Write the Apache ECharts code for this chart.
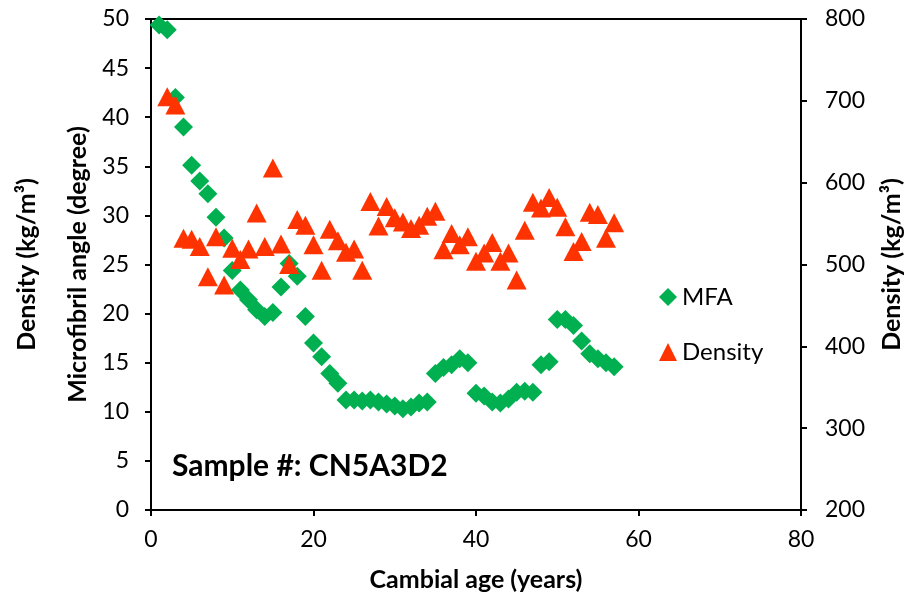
<!DOCTYPE html>
<html>
<head>
<meta charset="utf-8">
<script src="https://cdn.jsdelivr.net/npm/echarts@6/dist/echarts.min.js"></script>
<style>
html,body{margin:0;padding:0;background:#fff;}
#c{width:916px;height:599px;}
</style>
</head>
<body>
<div id="c"></div>
<script>
// Cambial age (years)
const mfaYears = [1,2,3,4,5,6,7,8,9,10,11,12,13,14,15,16,17,18,19,20,21,22,23,24,25,26,27,28,29,30,31,32,33,34,35,36,37,38,39,40,41,42,43,44,45,46,47,48,49,50,51,52,53,54,55,56,57];
// Microfibril angle (degree)
const mfaValues = [49.4,48.9,42.0,39.0,35.1,33.5,32.2,29.8,27.7,24.4,22.4,21.4,20.4,19.7,20.1,22.7,25.1,23.8,19.7,17.0,15.6,13.9,12.9,11.2,11.2,11.1,11.2,11.0,10.8,10.6,10.3,10.5,10.9,11.0,13.9,14.5,14.8,15.4,15.0,11.9,11.6,11.0,10.9,11.3,12.0,12.1,12.0,14.8,15.1,19.4,19.4,18.8,17.2,15.9,15.4,15.0,14.6];
const densityYears = [2,3,4,5,6,7,8,9,10,11,12,13,14,15,16,17,18,19,20,21,22,23,24,25,26,27,28,29,30,31,32,33,34,35,36,37,38,39,40,41,42,43,44,45,46,47,48,49,50,51,52,53,54,55,56,57];
// Density (kg/m3)
const densityValues = [705,695,532,531,522,485,534,475,520,506,519,563,522,618,525,500,555,548,524,493,543,529,515,519,493,577,547,571,557,552,544,548,559,565,518,538,524,534,504,514,527,504,514,481,542,576,569,582,570,546,516,528,564,561,532,551];
const xTicks = {min:0, max:80, interval:20};
const yLeftTicks = {min:0, max:50, interval:5};
const yRightTicks = {min:200, max:800, interval:100};

const FONT = 'Lato';
const mfaData = mfaYears.map((x,i)=>[x, mfaValues[i]]);
const densData = densityYears.map((x,i)=>[x, densityValues[i]]);

const axisCommon = {
  axisLine:{show:true, onZero:false, lineStyle:{color:'#000', width:2}},
  axisTick:{show:true, inside:false, length:6, lineStyle:{color:'#000', width:2}},
  splitLine:{show:false},
  nameMoveOverlap:false,
  axisLabel:{color:'#000', fontFamily:FONT, fontSize:23},
  nameTextStyle:{color:'#000', fontFamily:FONT, fontSize:25, fontWeight:'bold'}
};

const chart = echarts.init(document.getElementById('c'));
chart.setOption({
  animation:false,
  backgroundColor:'#fff',
  grid:{left:151, right:115, top:19, bottom:89, show:true, borderColor:'#000', borderWidth:2, containLabel:false, outerBoundsMode:'none'},
  xAxis:Object.assign({}, axisCommon, {
    type:'value', min:xTicks.min, max:xTicks.max, interval:xTicks.interval,
    name:'Cambial age (years)', nameLocation:'middle', nameGap:57,
    axisLabel:Object.assign({}, axisCommon.axisLabel, {margin:18})
  }),
  yAxis:[
    Object.assign({}, axisCommon, {
      type:'value', position:'left', min:yLeftTicks.min, max:yLeftTicks.max, interval:yLeftTicks.interval,
      name:'Density (kg/m³)\nMicrofibril angle (degree)', nameLocation:'middle', nameGap:48,
      nameTextStyle:Object.assign({}, axisCommon.nameTextStyle, {lineHeight:51}),
      axisLabel:Object.assign({}, axisCommon.axisLabel, {margin:22})
    }),
    Object.assign({}, axisCommon, {
      type:'value', position:'right', min:yRightTicks.min, max:yRightTicks.max, interval:yRightTicks.interval,
      name:'Density (kg/m³)', nameLocation:'middle', nameGap:78,
      axisLabel:Object.assign({}, axisCommon.axisLabel, {margin:24})
    })
  ],
  legend:{
    orient:'vertical', left:654, top:280, itemWidth:18, itemHeight:18, itemGap:31,
    textStyle:{color:'#000', fontFamily:FONT, fontSize:24},
    data:[{name:'MFA', icon:'diamond'},{name:'Density', icon:'triangle'}]
  },
  graphic:[{
    type:'text', left:172, top:451,
    style:{text:'Sample #: CN5A3D2', fill:'#000', font:'bold 30px Lato'}
  }],
  series:[
    {name:'MFA', type:'scatter', yAxisIndex:0, symbol:'diamond', symbolSize:19,
     itemStyle:{color:'#00B050', opacity:1}, data:mfaData},
    {name:'Density', type:'scatter', yAxisIndex:1, symbol:'triangle', symbolSize:[20,19],
     itemStyle:{color:'#FF3300', opacity:1}, data:densData}
  ]
});
</script>
</body>
</html>
